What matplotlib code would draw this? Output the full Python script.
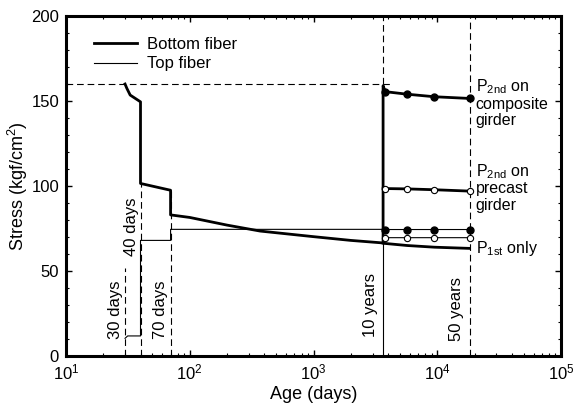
import matplotlib.pyplot as plt
from matplotlib.ticker import MultipleLocator, LogLocator
from matplotlib.lines import Line2D

plt.rcParams['font.family'] = ['Liberation Sans', 'DejaVu Sans']
plt.rcParams['mathtext.fontset'] = 'custom'
plt.rcParams['mathtext.rm'] = 'Liberation Sans'
plt.rcParams['mathtext.it'] = 'Liberation Sans:italic'
plt.rcParams['mathtext.bf'] = 'Liberation Sans:bold'
plt.rcParams['font.size'] = 12

# bottom / top fiber up to 10 years
bot_days = [30, 31, 33, 40, 40, 70, 70, 100, 200, 370, 1000, 2000, 3650]
bot_stress = [160, 157.5, 153.5, 149.5, 101.5, 97.5, 83, 81.5, 77, 73.5, 70.2, 68, 66.5]
top_days = [30, 31.5, 40, 40, 70, 70, 3650]
top_stress = [10.4, 11.8, 11.8, 68, 68, 74.5, 74.5]

# after 10 years (first point = value at 10 years, rest carry markers)
late_days = [3650, 3800, 5700, 9500, 18250]
comp_bot = [159, 155.5, 154, 152.5, 151.5]
prec_bot = [98.6, 98.5, 98.3, 97.8, 97]
p1_bot = [66.5, 66.2, 65, 64, 63.3]
comp_top = [75, 74.4, 74.4, 74.4, 74.4]
prec_top = [70.2, 69.6, 69.6, 69.6, 69.6]

# vertical marker lines: (day, bottom, top, style)
vlines = [(30, 0, 52, '--'), (40, 0, 101.5, '--'), (70, 0, 97.5, '--'),
          (3650, 0, 66.5, '-'), (3650, 160, 200, '--'), (18250, 0, 200, '--')]
vlabels = [('30 days', 25, 27), ('40 days', 34, 76), ('70 days', 57.5, 27),
           ('10 years', 2865, 30), ('50 years', 14200, 27.6)]

fig = plt.figure(figsize=(5.74, 4.09), dpi=100)
ax = fig.add_axes([66/574, 53/409, 495/574, 340/409])

thick = 2.0
thin = 0.8
dash = (0, (6, 3.5))

ax.plot([10, 4300], [160, 160], color='k', lw=thin, ls=dash)
for d, y0, y1, st in vlines:
    ax.plot([d, d], [y0, y1], color='k', lw=thin, ls=dash if st == '--' else '-')

ax.plot(bot_days, bot_stress, color='k', lw=thick)
ax.plot(top_days, top_stress, color='k', lw=thin)

ax.plot([3650] + late_days, [66.5] + comp_bot, color='k', lw=thick,
        marker='o', ms=5, mfc='k', markevery=slice(2, None))
ax.plot(late_days, prec_bot, color='k', lw=thick,
        marker='o', ms=4.5, mfc='white', mew=0.8, markevery=slice(1, None))
ax.plot(late_days, p1_bot, color='k', lw=thick)
ax.plot(late_days, comp_top, color='k', lw=thin,
        marker='o', ms=5, mfc='k', markevery=slice(1, None))
ax.plot(late_days, prec_top, color='k', lw=thin,
        marker='o', ms=4.5, mfc='white', mew=0.8, markevery=slice(1, None))

for txt, x, y in vlabels:
    ax.text(x, y, txt, rotation=90, ha='center', va='center', fontsize=12)

xr = 2.05e4
fs = 11.5
ax.text(xr, 158.6, r'P$_{\mathrm{2nd}}$ on', va='center', fontsize=fs)
ax.text(xr, 148.2, 'composite', va='center', fontsize=fs)
ax.text(xr, 138.8, 'girder', va='center', fontsize=fs)
ax.text(xr, 108.2, r'P$_{\mathrm{2nd}}$ on', va='center', fontsize=fs)
ax.text(xr, 98.3, 'precast', va='center', fontsize=fs)
ax.text(xr, 88.6, 'girder', va='center', fontsize=fs)
ax.text(xr, 63.5, r'P$_{\mathrm{1st}}$ only', va='center', fontsize=fs)

handles = [Line2D([], [], color='k', lw=thick), Line2D([], [], color='k', lw=thin)]
ax.legend(handles, ['Bottom fiber', 'Top fiber'], loc='upper left',
          bbox_to_anchor=(0.039, 0.962), frameon=False, borderpad=0,
          handlelength=2.6, handletextpad=0.6, labelspacing=0.25, fontsize=12)

ax.set_xscale('log')
ax.set_xlim(10, 1e5)
ax.set_ylim(0, 200)
ax.yaxis.set_major_locator(MultipleLocator(50))
ax.yaxis.set_minor_locator(MultipleLocator(10))
ax.xaxis.set_minor_locator(LogLocator(base=10, subs=range(2, 10)))
ax.tick_params(which='both', direction='in', top=True, right=True, labelsize=12)
ax.tick_params(which='major', length=4.5, width=1, pad=5)
ax.tick_params(which='minor', length=2.2, width=0.8)
for s in ax.spines.values():
    s.set_linewidth(2.2)

ax.set_xlabel('Age (days)', fontsize=13, labelpad=2)
ax.set_ylabel('Stress (kgf/cm$^2$)', fontsize=13, labelpad=1)

fig.savefig('out.png', dpi=100)
